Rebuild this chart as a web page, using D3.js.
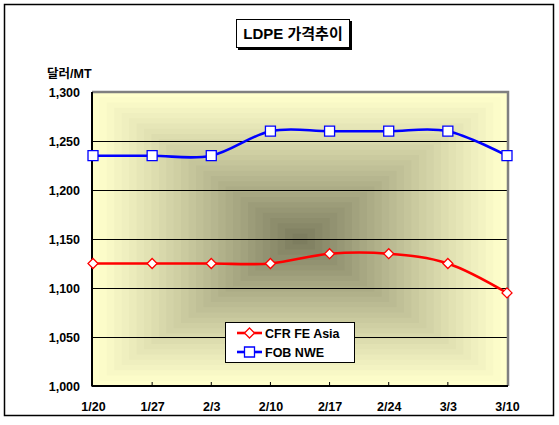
<!DOCTYPE html>
<html><head><meta charset="utf-8">
<script src="https://cdn.jsdelivr.net/npm/d3@7"></script>
<style>
body{margin:0;background:#fff;}
text{font-family:"Liberation Sans",Arial,"Noto Sans CJK KR",sans-serif;font-weight:bold;}
</style></head>
<body><svg id="c" width="559" height="425"></svg>
<script>
const categories = ["1/20","1/27","2/3","2/10","2/17","2/24","3/3","3/10"];
const cfrFeAsia = [1125,1125,1125,1125,1135,1135,1125,1095];
const fobNwe = [1235,1235,1235,1260,1260,1260,1260,1235];
const yTicks = [1000,1050,1100,1150,1200,1250,1300];
const seriesNames = ["CFR FE Asia","FOB NWE"];
const titleText = "LDPE 가격추이";
const unitText = "달러/MT";

const svg = d3.select("#c");
const P = {l:92, r:508, t:92, b:386};

// outer frame
svg.append("rect").attr("x",4.5).attr("y",4.5).attr("width",549).attr("height",411)
  .attr("fill","#fff").attr("stroke","#000").attr("stroke-width",1.5);

// plot background: rectangular gradient from center
const cx=(P.l+P.r)/2, cy=(P.t+P.b)/2, hw=(P.r-P.l)/2, hh=(P.b-P.t)/2;
const col = d3.interpolateRgb("#ffffcc","#7d7d5f");
const N=28;
for(let i=0;i<N;i++){
  const t=1-i/N;
  const c = col(Math.pow(i/(N-1),1.1));
  svg.append("rect").attr("x",cx-hw*t).attr("y",cy-hh*t).attr("width",2*hw*t).attr("height",2*hh*t)
    .attr("fill",c);
}

const x = d3.scalePoint().domain(categories).range([P.l+1,P.r-1]);
const y = d3.scaleLinear().domain([1000,1300]).range([P.b,P.t]);

// gridlines
svg.append("g").selectAll("line").data(yTicks.filter(v=>v>1000&&v<1300)).join("line")
  .attr("x1",P.l).attr("x2",P.r).attr("y1",d=>y(d)+0.5).attr("y2",d=>y(d)+0.5)
  .attr("stroke","#000").attr("stroke-width",1);

// plot border gray top/right
svg.append("path").attr("d",`M${P.l},${P.t} H${P.r} V${P.b}`).attr("fill","none")
  .attr("stroke","#808080").attr("stroke-width",2.5);

// axes
const yAxis = d3.axisLeft(y).tickValues(yTicks).tickSize(0).tickPadding(12).tickFormat(d3.format(","));
const gy = svg.append("g").attr("transform",`translate(${P.l},0)`).call(yAxis);
gy.select(".domain").remove();
gy.selectAll("text").attr("font-size",12.5).attr("fill","#000").attr("dy","0.35em");

const xAxis = d3.axisBottom(x).tickSize(0).tickPadding(16);
const gx = svg.append("g").attr("transform",`translate(0,${P.b})`).call(xAxis);
gx.select(".domain").remove();
gx.selectAll("text").attr("font-size",12.5).attr("fill","#000");
// inner tick marks
svg.append("g").selectAll("line").data(categories.slice(1,-1)).join("line")
  .attr("x1",d=>x(d)).attr("x2",d=>x(d)).attr("y1",P.b).attr("y2",P.b-4)
  .attr("stroke","#000");

svg.append("line").attr("x1",P.l).attr("x2",P.l).attr("y1",P.t).attr("y2",P.b+0.5).attr("stroke","#000").attr("stroke-width",2);
svg.append("line").attr("x1",P.l).attr("x2",P.r).attr("y1",P.b).attr("y2",P.b).attr("stroke","#000").attr("stroke-width",2);

// lines
const line = d3.line().x((d,i)=>x(categories[i])).y(d=>y(d)).curve(d3.curveCatmullRom.alpha(0));
const series = [{name:seriesNames[0],vals:cfrFeAsia,color:"#ff0000",shape:"diamond"},
                {name:seriesNames[1],vals:fobNwe,color:"#0000ff",shape:"square"}];
const diamond = s=>`M0,${-s}L${s},0L0,${s}L${-s},0Z`;
const square = s=>`M${-s},${-s}H${s}V${s}H${-s}Z`;
series.forEach(s=>{
  svg.append("path").attr("d",line(s.vals)).attr("fill","none").attr("stroke",s.color).attr("stroke-width",2.6);
  svg.append("g").selectAll("path").data(s.vals).join("path")
    .attr("transform",(d,i)=>`translate(${x(categories[i])},${y(d)})`)
    .attr("d",s.shape==="diamond"?diamond(5):square(5))
    .attr("fill","#fff").attr("stroke",s.color).attr("stroke-width",1.3);
});

// legend
const lg = svg.append("g");
lg.append("rect").attr("x",225.5).attr("y",322.5).attr("width",129).attr("height",40).attr("fill","#fff").attr("stroke","#000");
series.forEach((s,i)=>{
  const yy=333+i*19;
  lg.append("line").attr("x1",237).attr("x2",262).attr("y1",yy).attr("y2",yy).attr("stroke",s.color).attr("stroke-width",2.6);
  lg.append("path").attr("transform",`translate(249.5,${yy})`).attr("d",s.shape==="diamond"?diamond(5):square(5))
    .attr("fill","#fff").attr("stroke",s.color).attr("stroke-width",1.3);
  lg.append("text").attr("x",265).attr("y",yy).attr("dy","0.36em").attr("font-size",12.5).text(s.name);
});

// title
svg.append("rect").attr("x",238).attr("y",21).attr("width",114).attr("height",29).attr("fill","#000");
svg.append("rect").attr("x",236.5).attr("y",19.5).attr("width",113).attr("height",28).attr("fill","#fff").attr("stroke","#000");
svg.append("text").attr("x",293).attr("y",34).attr("dy","0.36em").attr("text-anchor","middle")
  .attr("font-size",15).text(titleText);

// unit
svg.append("text").attr("x",47).attr("y",73).attr("dy","0.36em").attr("font-size",12.5).text(unitText);
</script></body></html>
